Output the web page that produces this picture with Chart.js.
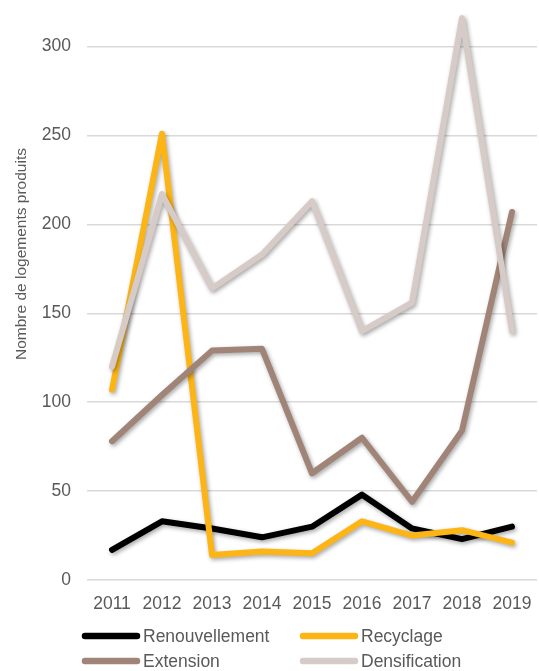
<!DOCTYPE html>
<html>
<head>
<meta charset="utf-8">
<script src="https://cdn.jsdelivr.net/npm/chart.js@4/dist/chart.umd.min.js"></script>
<style>
html,body{margin:0;padding:0;background:#fff;}
#wrap{width:539px;height:671px;position:relative;}
</style>
</head>
<body>
<div id="wrap"><canvas id="c" width="539" height="671"></canvas></div>
<script>
const years = ['2011','2012','2013','2014','2015','2016','2017','2018','2019'];
const renouvellement = [17, 33, 29, 24, 30, 48, 29, 23, 30];
const recyclage = [107, 251, 14, 16, 15, 33, 25, 28, 21];
const extension = [78, 104, 129, 130, 60, 80, 44, 84, 207];
const densification = [120, 217, 164, 183, 213, 140, 156, 316, 140];
const seriesNames = ['Renouvellement', 'Recyclage', 'Extension', 'Densification'];
const yTitle = 'Nombre de logements produits';

const colors = ['#000000', '#FDB515', '#A08478', '#D6CBC7'];
const FONT = 'Liberation Sans, Arial, sans-serif';
const TEXT = '#595959';

const shadowPlugin = {
  id: 'shadow',
  beforeDatasetDraw(chart) {
    const ctx = chart.ctx;
    ctx.save();
    ctx.shadowColor = 'rgba(0,0,0,0.35)';
    ctx.shadowBlur = 4;
    ctx.shadowOffsetX = 1.5;
    ctx.shadowOffsetY = 2;
  },
  afterDatasetDraw(chart) {
    chart.ctx.restore();
  }
};

const extrasPlugin = {
  id: 'extras',
  afterDraw(chart) {
    const ctx = chart.ctx;
    ctx.save();
    ctx.translate(22, 254);
    ctx.rotate(-Math.PI / 2);
    ctx.fillStyle = TEXT;
    ctx.font = '15.5px ' + FONT;
    ctx.textAlign = 'center';
    ctx.textBaseline = 'middle';
    ctx.fillText(yTitle, 0, 0);
    ctx.restore();
    const colX = [82, 300];
    const rowY = [636, 661];
    chart.data.datasets.forEach((ds, i) => {
      const x = colX[i % 2];
      const y = rowY[Math.floor(i / 2)];
      ctx.save();
      ctx.strokeStyle = ds.borderColor;
      ctx.lineWidth = 6.5;
      ctx.lineCap = 'round';
      ctx.beginPath();
      ctx.moveTo(x + 3, y);
      ctx.lineTo(x + 55, y);
      ctx.stroke();
      ctx.fillStyle = TEXT;
      ctx.font = '17.5px ' + FONT;
      ctx.textAlign = 'left';
      ctx.textBaseline = 'middle';
      ctx.fillText(ds.label, x + 61, y + 1);
      ctx.restore();
    });
  }
};

const allSeries = [renouvellement, recyclage, extension, densification];
const orders = [4, 3, 2, 1];

new Chart(document.getElementById('c'), {
  type: 'line',
  data: {
    labels: years,
    datasets: allSeries.map((d, i) => ({
      label: seriesNames[i],
      data: d,
      borderColor: colors[i],
      backgroundColor: colors[i],
      borderWidth: 6,
      pointRadius: 0,
      pointHoverRadius: 0,
      tension: 0,
      fill: false,
      borderCapStyle: 'round',
      borderJoinStyle: 'round',
      order: orders[i]
    }))
  },
  options: {
    responsive: false,
    animation: false,
    events: [],
    layout: { padding: { top: 11, right: 2, left: 0, bottom: 0 } },
    plugins: {
      legend: { display: false },
      tooltip: { enabled: false },
      title: { display: false }
    },
    scales: {
      x: {
        type: 'category',
        offset: true,
        grid: { display: false, drawTicks: false },
        border: { display: false },
        ticks: { color: TEXT, font: { family: FONT, size: 17.5 }, padding: 14, maxRotation: 0, autoSkip: false },
        afterFit(scale) { scale.height = 91; scale.paddingLeft = 0; scale.paddingRight = 0; }
      },
      y: {
        min: 0,
        max: 320,
        grid: { color: '#D9D9D9', lineWidth: 1.5, drawTicks: false },
        border: { display: false },
        ticks: { stepSize: 50, color: TEXT, font: { family: FONT, size: 17.5 }, padding: 16 },
        afterBuildTicks(scale) { scale.ticks = scale.ticks.filter(t => t.value % 50 === 0); },
        afterFit(scale) { scale.width = 87; scale.paddingTop = 0; scale.paddingBottom = 0; }
      }
    }
  },
  plugins: [shadowPlugin, extrasPlugin]
});
</script>
</body>
</html>
